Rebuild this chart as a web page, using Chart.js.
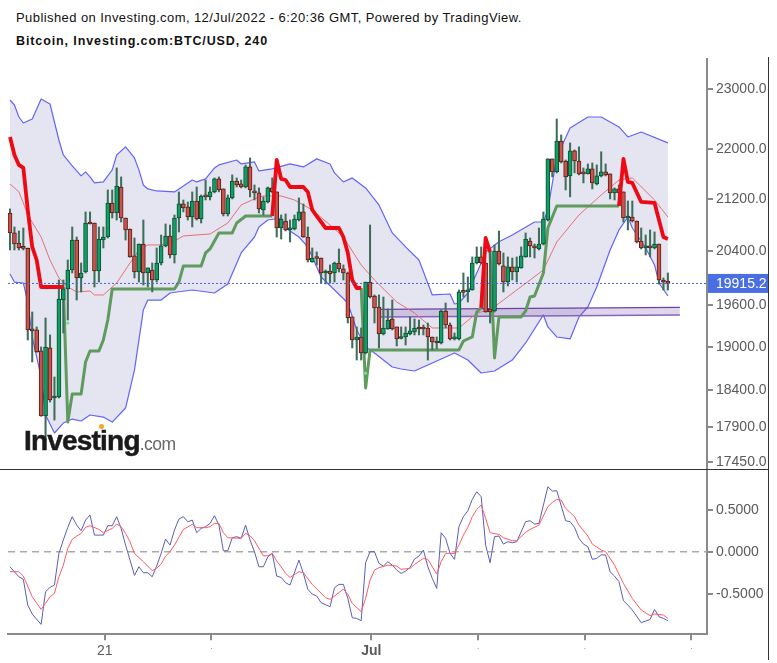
<!DOCTYPE html>
<html>
<head>
<meta charset="utf-8">
<title>Bitcoin BTC/USD 240</title>
<script src="https://cdn.jsdelivr.net/npm/chart.js@4"></script>
<style>
  html, body { margin: 0; padding: 0; background: #fff; width: 777px; height: 663px; overflow: hidden; }
  body { position: relative; font-family: "Liberation Sans", Arial, sans-serif; }
  canvas { position: absolute; left: 0; }
  #priceCanvas { top: 58px; }
  #oscCanvas { top: 470px; }
  .head { position: absolute; left: 16px; white-space: nowrap; color: #111; }
  #published { top: 10px; font-size: 13px; letter-spacing: 0.42px; }
  #title { top: 34px; font-size: 12.5px; font-weight: bold; letter-spacing: 0.89px; }
  .rule { position: absolute; background: #333; }
  #logo { position: absolute; left: 24px; top: 424px; white-space: nowrap; color: #1a1a1a; font-weight: bold; font-size: 28px; letter-spacing: -0.8px; line-height: 34px; -webkit-text-stroke: 0.5px #1a1a1a; }
  #logo span { font-weight: normal; font-size: 17.5px; color: #666; letter-spacing: -0.5px; -webkit-text-stroke: 0; }
  #logoDot { position: absolute; left: 99px; top: 424px; width: 5px; height: 5px; border-radius: 50%; background: #f5a623; }
</style>
</head>
<body>
<div class="head" id="published">Published on Investing.com, 12/Jul/2022 - 6:20:36 GMT, Powered by TradingView.</div>
<div class="head" id="title">Bitcoin, Investing.com:BTC/USD, 240</div>
<div class="rule" style="left:0;top:469px;width:769px;height:1px"></div>
<div class="rule" style="left:768px;top:57px;width:1px;height:603px"></div>
<canvas id="priceCanvas" width="777" height="411"></canvas>
<canvas id="oscCanvas" width="777" height="193"></canvas>
<div id="logo">Investing<span>.com</span></div>
<div id="logoDot"></div>

<script>
// ------------------------------------------------------------------
// Candles (one every 4 hours)
// ------------------------------------------------------------------
const opens = [20982,20674,20521,20453,20438,19255,19241,18944,18053,18986,18295,18309,19672,19834,20115,20566,19996,20085,20827,20827,
  20100,20566,20612,21138,20982,21390,20904,20735,20325,20085,20506,20070,20115,19966,20219,20476,20628,20340,20904,21123,
  21076,20920,21169,20889,21248,21233,21312,21518,21359,20967,21217,21485,21438,21390,21710,21327,21296,21029,21154,21375,
  21312,20750,20858,20720,20735,20873,20998,20612,20234,20294,20294,20070,20100,20070,20219,20130,20070,19427,19098,19141,
  18916,19936,19731,19571,19184,19255,19398,19284,19120,19141,19184,19212,19269,19269,19269,19141,19084,19056,19513,19312,
  19113,19113,19790,19790,19819,20219,20310,20219,19542,19513,20400,20175,19936,20160,20085,20145,20310,20551,20476,20430,
  20506,20873,21840,21630,22130,21806,21566,21970,21806,21614,21598,21678,21438,21566,21630,21598,21296,21359,21312,20904,
  20920,20858,20551,20445,20476,20445,20506,19966,19951];
const highs = [21045,20766,20704,20750,20445,19499,19284,19000,19412,19170,18582,19966,19966,20264,20766,20612,20219,20998,20998,20827,
  20766,20766,21343,21343,21694,21550,20904,20735,20597,20506,20873,20145,20219,20445,20643,20812,20796,20951,21312,21185,
  21154,21312,21390,21264,21501,21390,21534,21550,21359,21264,21582,21534,21501,21742,21855,21422,21375,21233,21390,21534,
  21312,20951,20967,20873,20951,21217,21123,20766,20445,20385,20294,20115,20190,20234,20430,20190,20085,19427,19284,19269,
  19936,20796,19746,19746,19716,19542,19672,19284,19284,19284,19427,19398,19383,19312,19340,19141,19141,19528,19629,19340,
  19198,19819,20070,20011,20310,20461,20461,20219,20400,20491,20704,20370,20310,20294,20310,20461,20674,20597,20506,20750,
  20998,21840,21840,22495,22230,21822,22100,21985,22035,21694,21758,21774,21742,21955,21758,21598,21375,21422,21312,21169,
  21169,20858,20750,20643,20720,20689,20506,19996,20070];
const lows = [20415,20415,20415,20415,19098,18790,18925,18050,17734,18241,17999,18295,19198,19383,20070,19672,19790,20070,20812,19863,
  19936,20445,20597,20904,20873,20842,20566,20305,19996,19936,19892,19863,19790,19936,20190,20461,20294,20219,20689,20998,
  20873,20766,20873,20827,21185,21185,21296,21312,20935,20935,21201,21390,21375,21375,21233,21185,20982,20951,21138,21296,
  20612,20581,20704,20536,20720,20858,20605,20234,20230,20190,19922,19907,19922,19936,20085,19966,19340,18986,18817,18817,
  18902,19702,19340,18986,19170,19250,19241,19014,19113,19028,19170,19170,19170,19170,18817,18958,18972,19042,19269,19098,
  19098,19098,19716,19643,19815,20204,20204,19495,19340,19499,20190,19790,19878,19966,19936,20140,20305,20310,20294,20415,
  20491,20858,21550,21614,21774,21343,21233,21614,21582,21454,21595,21359,21422,21550,21566,21201,21185,21185,20842,20720,
  20842,20521,20430,20340,20310,20430,19907,19819,19819];
const closes = [20674,20506,20445,20438,19241,19227,18930,18053,19000,18268,18309,19687,19834,20115,20566,19996,20070,20827,20812,20100,
  20581,20612,21138,20982,21406,20904,20720,20310,20085,20506,20070,20145,19966,20219,20476,20628,20340,20904,21123,21060,
  20920,21169,20889,21248,21233,21312,21518,21343,20967,21217,21485,21422,21390,21710,21343,21296,21045,21169,21375,21312,
  20750,20889,20720,20750,20889,20998,20612,20264,20294,20287,20070,20100,20055,20219,20130,20070,19412,19098,19141,18916,
  19936,19716,19557,19184,19269,19383,19255,19113,19141,19198,19227,19269,19255,19255,19141,19070,19056,19513,19312,19113,
  19141,19790,19783,19819,20219,20310,20219,19499,19499,20400,20204,19936,20160,20085,20160,20325,20581,20476,20445,20506,
  20889,21840,21630,22130,21790,21550,21970,21806,21598,21598,21678,21454,21566,21630,21582,21296,21359,21296,20904,20920,
  20858,20536,20445,20476,20445,20506,19966,19936,19915];

// ------------------------------------------------------------------
// Indicators, as [candle index, value] pairs
// ------------------------------------------------------------------
const bandUpper = [[0,22813],[1,22729],[2,22528],[3,22428],[5,22495],[7,22830],[9,22746],[11,22147],[12,21903],[14,21726],[16,21566],[17,21630],[18,21550],[19,21454],[21,21470],[23,21662],[24,21903],[26,22035],[28,21855],[29,21662],[30,21422],[31,21359],[33,21327],[37,21312],[39,21406],[41,21501],[42,21470],[44,21518],[46,21694],[47,21742],[51,21822],[52,21758],[55,21790],[56,21646],[59,21678],[63,21758],[66,21710],[69,21840],[72,21758],[73,21614],[75,21470],[77,21534],[80,21375],[83,21107],[86,20674],[89,20461],[92,20264],[95,19746],[99,19760],[100,19614],[101,19629],[103,19775],[106,20219],[107,20385],[110,20540],[113,20643],[118,20842],[120,20842],[121,21029],[123,21871],[126,22345],[130,22528],[133,22528],[137,22362],[139,22197],[142,22279],[148,22100]];
const bandLower = [[0,20055],[1,19936],[3,19922],[4,19643],[5,19141],[7,18582],[8,18066],[10,17827],[12,17959],[14,18012],[16,17986],[18,18066],[21,18039],[23,17972],[26,18160],[28,18678],[30,19528],[31,19672],[34,19672],[36,19775],[41,19819],[46,19775],[49,19907],[52,20370],[55,20612],[56,20766],[58,20873],[61,20904],[62,20750],[65,20612],[67,20461],[70,20011],[73,19819],[76,19629],[78,19241],[80,19000],[82,18916],[86,18720],[88,18692],[91,18665],[94,18748],[100,18916],[103,18817],[106,18637],[109,18665],[113,18817],[116,19056],[120,19456],[121,19284],[123,19141],[126,19113],[128,19427],[130,19571],[132,19863],[135,20415],[137,20720],[139,20920],[140,20750],[143,20445],[145,20190],[146,19922],[148,19731]];
const bandMiddle = [[0,21438],[2,21312],[3,21138],[4,20951],[7,20612],[9,20264],[11,19996],[13,19863],[15,19790],[18,19804],[19,19746],[21,19746],[24,19922],[27,20219],[29,20415],[31,20491],[34,20491],[37,20551],[39,20628],[45,20658],[49,20827],[52,21107],[56,21233],[57,21248],[61,21248],[64,21185],[68,21029],[72,20796],[75,20612],[79,20190],[82,19966],[87,19643],[91,19484],[95,19269],[101,19269],[105,19484],[108,19528],[111,19672],[117,19966],[120,20115],[123,20536],[128,20951],[133,21264],[137,21501],[140,21534],[145,21185],[148,20920]];

// Trend line: red stretches above price, green stretches below
const trendRed1 = [[0,22197],[1,21903],[2,21742],[3,21694],[4,21029],[5,20461],[6,20264],[7,19863],[12,19863]];
const trendGreen1 = [[12,19863],[13,17972],[14,18350],[16,18350],[17,18789],[18,18944],[20,18944],[21,19098],[22,19383],[23,19834],[37,19834],[38,19936],[39,20175],[43,20175],[44,20370],[45,20430],[47,20674],[50,20674],[51,20827],[53,20935],[59,20935]];
const trendRed2 = [[59,20935],[60,21822],[61,21518],[62,21501],[63,21390],[66,21390],[67,21312],[68,21029],[69,20935],[71,20750],[74,20750],[75,20612],[76,20370],[77,19966],[78,19848],[79,19848]];
const trendGreen2 = [[79,19848],[80,18431],[81,18958],[101,18958],[102,19084],[104,19141],[105,19499],[106,19557]];
const trendRed3 = [[106,19557],[107,20597],[108,20385]];
const trendGreen3 = [[108,20385],[109,18846],[110,19427],[115,19427],[116,19513],[117,19716],[118,19731],[120,20070],[121,20750],[123,21091],[137,21091]];
const trendRed4 = [[137,21091],[138,21840],[139,21470],[140,21454],[142,21154],[145,21138],[146,20873],[147,20612],[148,20581]];
const trendSignals = [[13,19340],[80,18635]];

// Purple zone and last price
const zoneTop = [[83.3,19535],[150.7,19564]];
const zoneBottom = [[83.3,19427],[150.7,19456]];
const lastPrice = 19915.2;

// Lower panel
const oscBlue = [[0,-.179],[2,-.298],[3,-.329],[4,-.635],[5,-.742],[7,-.865],[8,-.476],[9,-.425],[10,-.397],[11,-.02],[12,.139],[13,.29],[14,.417],[15,.317],[16,.25],[17,.377],[18,.437],[19,.198],[21,.198],[22,.31],[23,.31],[24,.417],[25,.278],[26,.079],[27,-.099],[28,-.282],[29,-.179],[30,-.25],[31,-.25],[32,-.298],[33,-.167],[34,-.02],[35,.151],[36,.079],[37,.258],[38,.389],[39,.417],[40,.357],[41,.377],[42,.226],[43,.278],[44,.298],[45,.337],[46,.429],[47,.317],[48,.012],[49,.012],[50,.167],[51,.179],[52,.159],[53,.317],[54,.139],[55,0],[56,-.179],[57,-.179],[58,-.06],[59,-.02],[60,-.29],[61,-.306],[62,-.369],[63,-.397],[65,-.099],[66,-.258],[67,-.448],[68,-.504],[69,-.528],[70,-.607],[72,-.655],[73,-.429],[74,-.389],[75,-.389],[76,-.556],[77,-.786],[78,-.794],[79,-.821],[80,-.131],[81,0],[82,0],[83,-.139],[84,-.171],[85,-.119],[86,-.159],[87,-.218],[88,-.258],[89,-.23],[90,-.187],[91,-.087],[92,-.052],[93,.02],[94,-.179],[95,-.317],[96,-.437],[97,.226],[98,.159],[99,-.02],[100,-.091],[101,.298],[102,.417],[103,.488],[104,.623],[105,.714],[106,.655],[107,.079],[108,-.131],[109,.179],[110,.187],[111,.091],[112,.119],[113,.107],[114,.119],[116,.357],[117,.369],[118,.329],[119,.337],[121,.774],[122,.722],[123,.726],[125,.369],[126,.357],[127,.29],[128,.159],[129,.091],[130,.06],[131,-.091],[132,-.079],[133,-.036],[134,-.04],[135,-.238],[136,-.29],[137,-.357],[138,-.583],[139,-.635],[140,-.694],[142,-.845],[144,-.806],[145,-.687],[146,-.774],[147,-.794],[148,-.821]];
const oscRed = [[0,-.238],[2,-.238],[3,-.29],[4,-.409],[5,-.536],[7,-.687],[8,-.615],[9,-.536],[10,-.496],[11,-.298],[12,-.159],[13,.04],[14,.147],[15,.187],[16,.218],[17,.29],[18,.31],[20,.266],[21,.226],[23,.278],[24,.329],[25,.298],[26,.218],[27,.119],[28,-.02],[30,-.119],[32,-.226],[33,-.198],[34,-.147],[35,-.052],[36,0],[37,.079],[39,.266],[41,.325],[42,.286],[44,.286],[45,.298],[46,.337],[47,.337],[48,.226],[49,.167],[52,.159],[53,.218],[54,.19],[55,.131],[57,-.048],[58,-.048],[59,-.02],[60,-.111],[61,-.179],[62,-.258],[63,-.306],[65,-.238],[66,-.25],[68,-.389],[71,-.548],[72,-.567],[73,-.528],[75,-.444],[76,-.508],[77,-.615],[79,-.714],[80,-.556],[81,-.337],[82,-.218],[83,-.19],[85,-.159],[87,-.171],[88,-.21],[90,-.198],[91,-.151],[93,-.079],[94,-.091],[96,-.266],[97,-.119],[98,-.02],[100,-.02],[101,.079],[102,.198],[103,.29],[104,.417],[105,.504],[106,.556],[107,.397],[108,.226],[110,.206],[111,.167],[113,.131],[114,.131],[116,.23],[117,.266],[119,.317],[121,.536],[122,.587],[123,.623],[124,.615],[125,.516],[127,.417],[128,.317],[130,.187],[131,.091],[133,.02],[134,0],[136,-.159],[138,-.377],[140,-.556],[142,-.694],[144,-.762],[145,-.742],[147,-.754],[148,-.794]];

// Axes
const priceTicks = [23000, 22000, 21200, 20400, 19600, 19000, 18400, 17900, 17450];
const oscTicks = [0.5, 0, -0.5];
const timeTicks = [21.3, 45.3, 81.3, 105.3, 129.3, 153.3];
const timeLabels = ['21', '.', 'Jul', '.', '.', '.'];

// ------------------------------------------------------------------
// Helpers and shared styles
// ------------------------------------------------------------------
const X_MIN = -0.45, X_MAX = 156.8;
const FONT = '"Liberation Sans", Arial, sans-serif';
const AXIS_GREY = '#8a8a8a';
const LABEL_GREY = '#5a5a5a';

const pts = pairs => pairs.map(([x, y]) => ({ x, y }));

function lineSet(pairs, color, width, order, extra) {
  return Object.assign({
    type: 'line', data: pts(pairs), borderColor: color, borderWidth: width,
    pointRadius: 0, tension: 0, fill: false, order: order, borderJoinStyle: 'round',
  }, extra || {});
}

function valueAxis(min, max, tickValues, fmt, type) {
  return {
    type: type, position: 'right', min: min, max: max,
    border: { display: true, color: AXIS_GREY, width: 2 },
    grid: { drawOnChartArea: false, drawTicks: true, tickLength: 6, color: AXIS_GREY, lineWidth: 2 },
    ticks: { autoSkip: false, padding: 3, color: LABEL_GREY, font: { family: FONT, size: 14 }, callback: fmt },
    afterBuildTicks: s => { s.ticks = tickValues.map(v => ({ value: v })); },
    // no top/bottom room for labels: the panel runs to the edge
    afterFit: s => { s.width = 70; s.paddingTop = 0; s.paddingBottom = 0; },
  };
}

Chart.defaults.animation = false;

// Blue tag with the last price on the right axis
const lastPriceTag = {
  id: 'lastPriceTag',
  afterDraw(chart) {
    const y = chart.scales.y.getPixelForValue(lastPrice);
    const c = chart.ctx;
    c.save();
    c.fillStyle = '#4a6fe3';
    c.fillRect(708, y - 9.5, 60, 19);
    c.fillStyle = '#fff';
    c.font = '14px ' + FONT;
    c.textBaseline = 'middle';
    c.fillText(lastPrice.toFixed(1), 716, y + 0.5);
    c.restore();
  },
};

// ------------------------------------------------------------------
// Price panel
// ------------------------------------------------------------------
const bodyFill = closes.map((c, i) => c >= opens[i] ? '#0d9f63' : '#c9544c');
const bodyEdge = closes.map((c, i) => c >= opens[i] ? '#0b4d33' : '#5c1d18');

new Chart(document.getElementById('priceCanvas'), {
  type: 'bar',
  data: {
    datasets: [
      lineSet(bandUpper, '#6464fa', 1.2, 20, { fill: '+1', backgroundColor: '#e4e5f0' }),
      lineSet(bandLower, '#6464fa', 1.2, 19),
      lineSet(zoneTop, '#6f3fa5', 1.2, 18, { fill: '+1', backgroundColor: 'rgba(125,85,175,0.24)' }),
      lineSet(zoneBottom, '#8a62b8', 1.4, 17),
      lineSet(bandMiddle, '#ea6f78', 1, 16),
      lineSet(trendGreen1, '#5f9a5f', 3, 15),
      lineSet(trendGreen2, '#5f9a5f', 3, 15),
      lineSet(trendGreen3, '#5f9a5f', 3, 15),
      {
        type: 'bar', data: opens.map((o, i) => ({ x: i, y: [lows[i], highs[i]] })),
        backgroundColor: '#3f6e5a', barThickness: 1.4, grouped: false, order: 10,
      },
      {
        type: 'bar', data: opens.map((o, i) => ({ x: i, y: [o, closes[i]] })),
        backgroundColor: bodyFill, borderColor: bodyEdge, borderWidth: 1, borderSkipped: false,
        barThickness: 4, minBarLength: 2, grouped: false, order: 9,
      },
      lineSet(trendRed1, '#ee0a14', 3.8, 5),
      lineSet(trendRed2, '#ee0a14', 3.8, 5),
      lineSet(trendRed3, '#ee0a14', 3.8, 5),
      lineSet(trendRed4, '#ee0a14', 3.8, 5),
      { type: 'scatter', data: pts(trendSignals), pointRadius: 1.6, backgroundColor: '#66e58a', borderWidth: 0, order: 4 },
      lineSet([[X_MIN, lastPrice], [X_MAX, lastPrice]], '#4a63d8', 1, 3, { borderDash: [2, 2] }),
    ],
  },
  options: {
    responsive: false,
    layout: { autoPadding: false, padding: { left: 8, right: 0, top: 0, bottom: 0 } },
    plugins: { legend: { display: false }, tooltip: { enabled: false } },
    scales: {
      x: { type: 'linear', min: X_MIN, max: X_MAX, display: false, offset: false },
      y: valueAxis(17358, 23534, priceTicks, v => Number(v).toFixed(1), 'logarithmic'),
    },
  },
  plugins: [lastPriceTag],
});

// ------------------------------------------------------------------
// Oscillator panel
// ------------------------------------------------------------------
new Chart(document.getElementById('oscCanvas'), {
  type: 'line',
  data: {
    datasets: [
      lineSet([[X_MIN, 0], [X_MAX, 0]], '#aaaaaa', 1.5, 3, { borderDash: [7, 5] }),
      lineSet(oscBlue, '#5a5eb4', 1, 2),
      lineSet(oscRed, '#ff5a62', 1, 1),
    ],
  },
  options: {
    responsive: false,
    layout: { autoPadding: false, padding: { left: 8, right: 0, top: 0, bottom: 0 } },
    plugins: { legend: { display: false }, tooltip: { enabled: false } },
    scales: {
      x: {
        type: 'linear', min: X_MIN, max: X_MAX,
        border: { display: true, color: AXIS_GREY, width: 2 },
        grid: { drawOnChartArea: false, drawTicks: true, tickLength: 6, color: AXIS_GREY, lineWidth: 2 },
        ticks: {
          autoSkip: false, maxRotation: 0, padding: 2, color: LABEL_GREY,
          font: ctx => {
            const label = ctx.tick && ctx.tick.label;
            if (label === 'Jul') return { family: FONT, size: 14, weight: 'bold' };
            if (label === '.') return { family: FONT, size: 8 };
            return { family: FONT, size: 14 };
          },
          callback: (v, i) => timeLabels[i],
        },
        afterBuildTicks: s => { s.ticks = timeTicks.map(v => ({ value: v })); },
        afterFit: s => { s.height = 28.7; },
      },
      y: valueAxis(-0.983, 0.973, oscTicks, v => Number(v).toFixed(4), 'linear'),
    },
  },
});
</script>
</body>
</html>
